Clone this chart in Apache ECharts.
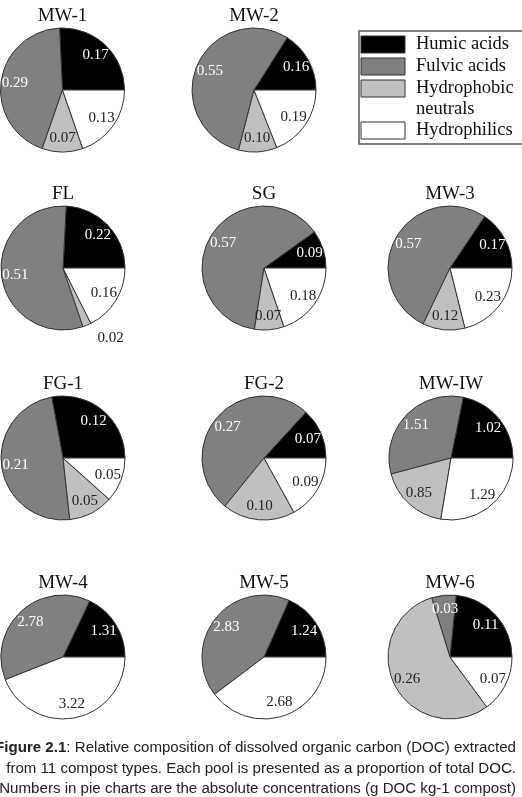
<!DOCTYPE html>
<html>
<head>
<meta charset="utf-8">
<script src="https://cdn.jsdelivr.net/npm/echarts@6/dist/echarts.min.js"></script>
<style>
  html, body { margin: 0; padding: 0; background: #fff; }
  #chart { width: 522px; height: 797px; }
</style>
</head>
<body>
<div id="chart"></div>
<script>
// pools (order = counter-clockwise from 3 o'clock)
const poolNames = ['Humic acids', 'Fulvic acids', 'Hydrophobic neutrals', 'Hydrophilics'];
const poolColors = ['#000000', '#808080', '#c0c0c0', '#ffffff'];
const labelColors = ['#ffffff', '#ffffff', '#222222', '#222222'];

// compost types and absolute concentrations (g DOC kg-1 compost)
const composts = ['MW-1', 'MW-2', 'FL', 'SG', 'MW-3', 'FG-1', 'FG-2', 'MW-IW', 'MW-4', 'MW-5', 'MW-6'];
const humic = [0.17, 0.16, 0.22, 0.09, 0.17, 0.12, 0.07, 1.02, 1.31, 1.24, 0.11];
const fulvic = [0.29, 0.55, 0.51, 0.57, 0.57, 0.21, 0.27, 1.51, 2.78, 2.83, 0.03];
const hydrophobicNeutrals = [0.07, 0.10, 0.02, 0.07, 0.12, 0.05, 0.10, 0.85, null, null, 0.26];
const hydrophilics = [0.13, 0.19, 0.16, 0.18, 0.23, 0.05, 0.09, 1.29, 3.22, 2.68, 0.07];

const captionLines = [
  '{b|Figure 2.1}: Relative composition of dissolved organic carbon (DOC) extracted',
  'from 11 compost types. Each pool is presented as a proportion of total DOC.',
  'Numbers in pie charts are the absolute concentrations (g DOC kg-1 compost)',
];

// layout
const centerX = [62.5, 254, 63, 264, 450, 63, 264, 451, 63, 264, 450];
const centerY = [90, 90, 268, 268, 268, 458, 458, 458, 657, 657, 657];
const pieR = 62;
const serif = '"Liberation Serif", "Times New Roman", serif';
const sans = '"Liberation Sans", Arial, sans-serif';

const chart = echarts.init(document.getElementById('chart'), null, { renderer: 'canvas' });

const pools = [humic, fulvic, hydrophobicNeutrals, hydrophilics];

const series = [];
composts.forEach((name, i) => {
  const data = [];
  pools.forEach((arr, p) => {
    if (arr[i] == null) return;
    data.push({
      name: poolNames[p],
      value: arr[i],
      itemStyle: { color: poolColors[p] },
    });
  });

  // filled slices
  series.push({
    type: 'pie',
    center: [centerX[i], centerY[i]],
    radius: pieR,
    startAngle: 0,
    clockwise: false,
    silent: true,
    label: { show: false },
    labelLine: { show: false },
    itemStyle: { borderColor: '#333', borderWidth: 1 },
    data: data,
  });

  // transparent ring that only carries the value labels
  series.push({
    type: 'pie',
    center: [centerX[i], centerY[i]],
    radius: [28, pieR],
    startAngle: 0,
    clockwise: false,
    silent: true,
    avoidLabelOverlap: false,
    itemStyle: { color: 'rgba(0,0,0,0)', borderWidth: 0 },
    labelLine: { show: false, length: 14, length2: 0 },
    data: data.map((d) => {
      const p = poolNames.indexOf(d.name);
      const lbl = {
        show: true,
        position: 'inside',
        formatter: (prm) => prm.value.toFixed(2),
        color: labelColors[p],
        fontFamily: serif,
        fontSize: 15,
      };
      if (name === 'FL' && p === 2) {
        lbl.position = 'outside';
        lbl.color = '#222';
      }
      return { name: d.name, value: d.value, label: lbl };
    }),
  });
});

const titles = composts.map((name, i) => ({
  text: name,
  left: centerX[i],
  top: centerY[i] - pieR - 21,
  textAlign: 'center',
  padding: 0,
  textStyle: { fontFamily: serif, fontSize: 19, fontWeight: 'normal', color: '#111' },
}));

// legend box drawn as graphics from the pool arrays
const legendChildren = [
  { type: 'rect', shape: { x: 359, y: 31, width: 170, height: 113 }, style: { fill: '#fff', stroke: '#555', lineWidth: 1.5 } },
];
let rowY = 36;
poolNames.forEach((n, p) => {
  const txt = n.replace(' neutrals', '\nneutrals');
  const lines = txt.split('\n').length;
  legendChildren.push({
    type: 'rect',
    shape: { x: 361, y: rowY, width: 44, height: 17 },
    style: { fill: poolColors[p], stroke: '#333', lineWidth: 1 },
  });
  legendChildren.push({
    type: 'text',
    style: {
      text: txt, x: 416, y: rowY - 2, verticalAlign: 'top', align: 'left',
      fontFamily: serif, fontSize: 18.5, lineHeight: 21, fill: '#111',
    },
  });
  rowY += 22 + (lines - 1) * 20;
});

const captionChildren = captionLines.map((t, k) => ({
  type: 'text',
  style: {
    text: t, x: 516, y: 748 + k * 20.5, align: 'right', verticalAlign: 'middle',
    fontFamily: sans, fontSize: 15.1, fill: '#222',
    rich: { b: { fontFamily: sans, fontSize: 15.1, fontWeight: 'bold', fill: '#222' } },
  },
}));

chart.setOption({
  animation: false,
  title: titles,
  series: series,
  graphic: [
    { type: 'group', children: legendChildren },
    { type: 'group', children: captionChildren },
  ],
});
</script>
</body>
</html>
